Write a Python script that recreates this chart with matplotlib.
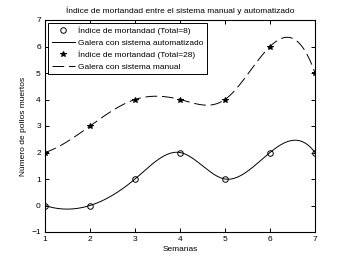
import numpy as np
import matplotlib
matplotlib.use("Agg")
import matplotlib.pyplot as plt
from matplotlib.lines import Line2D

semanas = [1, 2, 3, 4, 5, 6, 7]
automatizado = [0, 0, 1, 2, 1, 2, 2]
manual = [2, 3, 4, 4, 4, 6, 5]
titulo = "Índice de mortandad entre el sistema manual y automatizado"
etiquetas = ["Índice de mortandad (Total=8)", "Galera con sistema automatizado",
             "Índice de mortandad (Total=28)", "Galera con sistema manual"]


def spline_nak(x, y, xq):
    """Cubic spline with not-a-knot end conditions (like MATLAB spline)."""
    x = np.asarray(x, float); y = np.asarray(y, float)
    n = len(x)
    h = np.diff(x)
    A = np.zeros((n, n)); b = np.zeros(n)
    for i in range(1, n - 1):
        A[i, i - 1] = h[i - 1]
        A[i, i] = 2 * (h[i - 1] + h[i])
        A[i, i + 1] = h[i]
        b[i] = 6 * ((y[i + 1] - y[i]) / h[i] - (y[i] - y[i - 1]) / h[i - 1])
    A[0, 0] = h[1]; A[0, 1] = -(h[0] + h[1]); A[0, 2] = h[0]
    A[-1, -3] = h[-1]; A[-1, -2] = -(h[-2] + h[-1]); A[-1, -1] = h[-2]
    M = np.linalg.solve(A, b)
    idx = np.clip(np.searchsorted(x, xq) - 1, 0, n - 2)
    xi, xi1 = x[idx], x[idx + 1]
    hi = xi1 - xi
    t1 = xi1 - xq; t2 = xq - xi
    return (M[idx] * t1 ** 3 / (6 * hi) + M[idx + 1] * t2 ** 3 / (6 * hi)
            + (y[idx] / hi - M[idx] * hi / 6) * t1
            + (y[idx + 1] / hi - M[idx + 1] * hi / 6) * t2)


plt.rcParams['font.family'] = ['Liberation Sans', 'DejaVu Sans']
fig = plt.figure(figsize=(3.49, 2.62), dpi=100)
ax = fig.add_axes([45 / 349, 30 / 262, 270 / 349, 212 / 262])

xs = np.linspace(1, 7, 300)
dash = (12, 5)
ax.plot(semanas, automatizado, 'o', mfc='none', mec='black', ms=4.0, mew=0.7)
ax.plot(xs, spline_nak(semanas, automatizado, xs), '-', color='black', lw=0.7)
ax.plot(semanas, manual, '*', color='black', ms=4.0, mew=0.7)
ax.plot(xs, spline_nak(semanas, manual, xs), '--', color='black', lw=0.7, dashes=dash)

ax.set_xlim(1, 7)
ax.set_ylim(-1, 7)
ax.set_xticks(semanas)
ax.set_yticks(range(-1, 8))
ax.tick_params(direction='in', top=True, right=True, labelsize=6, length=3, width=0.7, pad=3)
for s in ax.spines.values():
    s.set_linewidth(0.8)

ax.set_title(titulo, fontsize=6, pad=5)
ax.set_xlabel("Semanas", fontsize=6, labelpad=2)
ax.set_ylabel("Número de pollos muertos", fontsize=6, labelpad=3)

handles = [
    Line2D([], [], ls='none', marker='o', mfc='none', mec='black', ms=4.0, mew=0.7),
    Line2D([], [], ls='-', color='black', lw=0.7),
    Line2D([], [], ls='none', marker='*', color='black', ms=4.0, mew=0.7),
    Line2D([], [], ls='--', color='black', lw=0.7, dashes=dash),
]
leg = ax.legend(handles, etiquetas, loc='upper left', fontsize=6, frameon=True,
                fancybox=False, edgecolor='black', framealpha=1,
                borderaxespad=0.4, handlelength=2.8, labelspacing=0.45,
                borderpad=0.4, handletextpad=0.4)
leg.get_frame().set_linewidth(0.7)

fig.savefig("out.png", dpi=100)
